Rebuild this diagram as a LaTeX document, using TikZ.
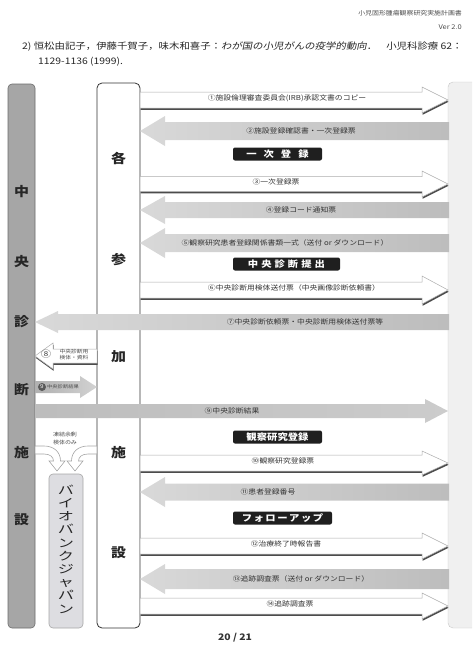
\documentclass[tikz,border=0pt]{standalone}
\usepackage{fontspec}
\setmainfont{Noto Sans CJK JP}[FakeStretch=1.15]
\newfontfamily\jpwide{Noto Sans CJK JP}[FakeStretch=1.4]
\newfontfamily\jpslant{Noto Sans CJK JP}[FakeStretch=1.15,FakeSlant=0.2]
\usetikzlibrary{calc}
\newcommand\BArrow[7]{\path[#1] (#2,{#4-#5}) -- ({#3-(#7)},{#4-#5}) -- ({#3-(#7)},{#4-#6}) -- (#3,#4) -- ({#3-(#7)},{#4+#6}) -- ({#3-(#7)},{#4+#5}) -- (#2,{#4+#5}) -- cycle;}
\newcommand\WArrow[6]{\BArrow{wshadow,shift={(0.6,1.8)}}{#1}{#2}{#3}{#4}{#5}{#6}\BArrow{warrow}{#1}{#2}{#3}{#4}{#5}{#6}}
\begin{document}
\begin{tikzpicture}[x=1pt,y=-1pt,
  lbl/.style={font=\fontsize{6.8}{8}\selectfont, text=black!80, inner sep=0},
  colchar/.style={font=\fontsize{13}{13}\selectfont\bfseries, text=black!85, inner sep=0},
  stage/.style={fill=black!88, rounded corners=2, text=white, font=\fontsize{9}{10}\selectfont\bfseries, minimum height=13, inner sep=0},
  warrow/.style={fill=white, draw=gray!65, line width=0.5},
  wshadow/.style={fill=black!70},
  garrow/.style={left color=gray!30, right color=gray!52},
  tiny/.style={font=\fontsize{5}{5.8}\selectfont, text=black!70, inner sep=0, align=center}]
\useasboundingbox (0,0) rectangle (472,646);
\clip (0,0) rectangle (472,646);
% header
\node[anchor=east, font=\fontsize{6}{7}\selectfont, text=black!70, inner sep=0] (hd1) at (462,13) {小児固形腫瘍観察研究実施計画書};
\node[anchor=east, font=\fontsize{6.5}{7}\selectfont, text=black!70, inner sep=0] (hd2) at (462,27) {Ver 2.0};
\node[anchor=west, font=\fontsize{9.05}{10}\selectfont, text=black!85, inner sep=0] (ref1) at (22,47) {2)\ 恒松由記子，伊藤千賀子，味木和喜子：{\jpslant わが国の小児がんの疫学的動向}．\quad 小児科診療 62：};
\node[anchor=west, font=\fontsize{9}{10}\selectfont, text=black!85, inner sep=0] (ref2) at (38,62) {1129-1136 (1999).};
% columns
\draw[fill=gray!12, draw=gray!45, rounded corners=5] (448,82) rectangle (495,628);
\draw[fill=gray!70, draw=gray!85!black, rounded corners=4, line width=0.6] (8,84) rectangle (35,628);
\draw[fill=white, draw=black!80, rounded corners=5, line width=0.8] (97,83) rectangle (140,628);
\draw[fill=blue!6!gray!25, draw=gray!70, rounded corners=4, line width=0.6] (49,474) rectangle (83,628);
% column texts
\foreach \c/\y/\n in {中/192/a,央/262/b,診/322/c,断/390/d,施/453/e,設/520/f}
  \node[colchar] (L\n) at (21.5,\y) {\c};
\foreach \c/\y/\n in {各/158/a,参/260/b,加/357/c,施/453/d,設/553/e}
  \node[colchar] (M\n) at (118.5,\y) {\c};
\node[inner sep=0, align=center, font=\jpwide\fontsize{11.5}{13.2}\selectfont, text=black!85] (bio) at (66,549) {バ\\イ\\オ\\バ\\ン\\ク\\ジ\\ャ\\パ\\ン};
\node[tiny, font=\fontsize{5.2}{8.5}\selectfont] (rem) at (65,438.5) {凍結余剰\\検体のみ};
% curved arrows to biobank
\path[fill=white, draw=gray!70, line width=0.6] (35,446) -- (44,446) .. controls (54,446) and (60.5,452) .. (60.5,461) -- (65,461) -- (57,471) -- (49,461) -- (53.5,461) .. controls (53.5,457) and (50,454) .. (44,454) -- (35,454) -- cycle;
\path[fill=white, draw=gray!70, line width=0.6] (97,446) -- (88,446) .. controls (78,446) and (71.5,452) .. (71.5,461) -- (67,461) -- (75,471) -- (83,461) -- (78.5,461) .. controls (78.5,457) and (82,454) .. (88,454) -- (97,454) -- cycle;
% stage boxes
\node[stage, minimum width=89] (s1) at (277.5,154) {一\hspace{7pt}次\hspace{7pt}登\hspace{7pt}録};
\node[stage, minimum width=107] (s2) at (286.5,264) {中\hspace{3pt}央\hspace{3pt}診\hspace{3pt}断\hspace{3pt}提\hspace{3pt}出};
\node[stage, minimum width=89] (s3) at (277.5,437) {観察研究登録};
\node[stage, minimum width=99] (s4) at (282.5,518) {フ\hspace{1.5pt}ォ\hspace{1.5pt}ロ\hspace{1.5pt}ー\hspace{1.5pt}ア\hspace{1.5pt}ッ\hspace{1.5pt}プ};
% arrows right column
\WArrow{140}{448}{100}{8}{13}{26}
\BArrow{garrow}{449}{140}{131}{9}{15}{-25}
\WArrow{140}{448}{184}{7.5}{13}{26}
\BArrow{garrow}{449}{140}{210}{8}{14}{-25}
\BArrow{garrow}{449}{140}{243}{9}{15}{-25}
\WArrow{140}{448}{290}{8}{14}{26}
\BArrow{garrow}{449}{35}{322}{8}{11}{-23}
\WArrow{97}{35}{356}{7}{13}{-18}
\BArrow{left color=gray!62,right color=gray!35}{35}{97}{387}{6}{11}{17}
\BArrow{left color=gray!52,right color=gray!40}{35}{448}{411}{7}{12}{23}
\WArrow{140}{448}{463}{8}{12}{26}
\BArrow{garrow}{449}{140}{492}{8.5}{15}{-25}
\WArrow{140}{448}{546}{8}{13}{26}
\BArrow{garrow}{449}{140}{579}{10}{15}{-25}
\WArrow{140}{448}{606}{8}{13}{26}
% arrow labels
\node[lbl] (l1) at (287,98) {①施設倫理審査委員会(IRB)承認文書のコピー};
\node[lbl] (l2) at (301,131) {②施設登録確認書・一次登録票};
\node[lbl] (l3) at (276,182) {③一次登録票};
\node[lbl] (l4) at (301,210) {④登録コード通知票};
\node[lbl] (l5) at (285,243) {⑤観察研究患者登録関係書類一式（送付 or ダウンロード）};
\node[lbl] (l6) at (294,288) {⑥中央診断用検体送付票（中央画像診断依頼書）};
\node[lbl] (l7) at (305,322) {⑦中央診断依頼票・中央診断用検体送付票等};
\node[font=\fontsize{9}{9}\selectfont, text=black!70, inner sep=0] (l8c) at (46,354) {⑧};
\node[tiny] (l8) at (74,355) {中央診断用\\検体・資料};
\node[circle, fill=black!65, inner sep=0, minimum size=8, font=\fontsize{5.5}{6}\selectfont, text=white] (l9c) at (42,387) {9};
\node[tiny, font=\fontsize{4.6}{5}\selectfont] (l9s) at (63,387) {中央診断結果};
\node[lbl] (l9) at (232,411) {⑨中央診断結果};
\node[lbl] (l10) at (283,461) {⑩観察研究登録票};
\node[lbl] (l11) at (268,492) {⑪患者登録番号};
\node[lbl] (l12) at (286,544) {⑫治療終了時報告書};
\node[lbl] (l13) at (301,579) {⑬追跡調査票（送付 or ダウンロード）};
\node[lbl] (l14) at (290,604) {⑭追跡調査票};
% page number
\node[font=\fontsize{9}{10}\selectfont\bfseries, text=black!80, inner sep=0] (pg) at (235,638) {20 / 21};
\end{tikzpicture}
\end{document}
